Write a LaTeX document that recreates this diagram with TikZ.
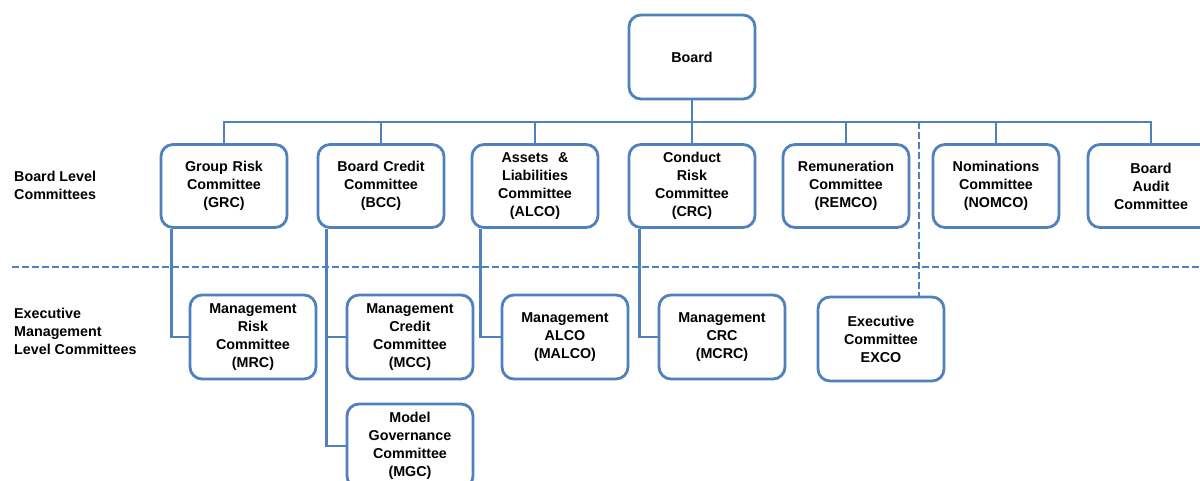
\documentclass[tikz,border=0pt]{standalone}
\usepackage{fontspec}
\setmainfont{Liberation Sans}
\definecolor{bl}{RGB}{79,129,189}
\begin{document}
\begin{tikzpicture}[x=1pt,y=-1pt,
  box/.style={draw=bl, line width=2.8pt, rounded corners=12pt, fill=white, align=center,
    font=\fontsize{14.3}{18}\selectfont\bfseries, inner sep=0pt, minimum width=126pt, text width=124pt},
  l1/.style={box, minimum height=83pt},
  l2/.style={box, minimum height=84pt},
  conn/.style={draw=bl, line width=2.8pt},
  dline/.style={draw=bl, line width=2.6pt, dash pattern=on 7pt off 3pt},
  lbl/.style={align=left, anchor=west, inner sep=0pt, font=\fontsize{14.3}{18}\selectfont\bfseries}]
\useasboundingbox (0,0) rectangle (1200,481);
\fill[white] (0,0) rectangle (1200,481);

% dashed separators
\coordinate (dl) at (12,267);
\coordinate (dr) at (1200,267);
\coordinate (dv) at (919,122);

% board
\node[box, minimum height=84pt] (board) at (692,57) {Board};

% level 1
\node[l1] (grc) at (224,186) {Group Risk\\Committee\\(GRC)};
\node[l1] (bcc) at (381,186) {Board Credit\\Committee\\(BCC)};
\node[l1] (alco) at (535,186) {Assets \ \&\\Liabilities\\Committee\\(ALCO)};
\node[l1] (crc) at (692,186) {Conduct\\Risk\\Committee\\(CRC)};
\node[l1] (remco) at (846,186) {Remuneration\\Committee\\(REMCO)};
\node[l1] (nomco) at (996,186) {Nominations\\Committee\\(NOMCO)};
\node[l1] (bac) at (1151,186) {Board\\Audit\\Committee};

% level 2
\node[l2] (mrc) at (253,337) {Management\\Risk\\Committee\\(MRC)};
\node[l2] (mcc) at (410,337) {Management\\Credit\\Committee\\(MCC)};
\node[l2] (mgc) at (410,446) {Model\\Governance\\Committee\\(MGC)};
\node[l2] (malco) at (565,337) {Management\\ALCO\\(MALCO)};
\node[l2] (mcrc) at (722,337) {Management\\CRC\\(MCRC)};
\node[l2] (exco) at (881,339) {Executive\\Committee\\EXCO};

% labels
\node[lbl] (lab1) at (14,185) {Board Level\\Committees};
\node[lbl] (lab2) at (14,331) {Executive\\Management\\Level Committees};

% bus
\draw[conn] (grc.north) |- (bac.north |- dv) -- (bac.north);
\draw[conn] (board.south) -- (board.south |- dv);
\foreach \n in {bcc,alco,crc,remco,nomco} \draw[conn] (\n.north) -- (\n.north |- dv);

% dashed
\draw[dline] (dl) -- (dr);
\draw[dline] (dv) -- (dv |- exco.north);

% level-2 connectors
\draw[conn] ([xshift=12pt]grc.south west) |- (mrc.west);
\draw[conn] ([xshift=10pt]bcc.south west) |- (mcc.west);
\draw[conn] ([xshift=10pt]bcc.south west) |- (mgc.west);
\draw[conn] ([xshift=10pt]alco.south west) |- (malco.west);
\draw[conn] ([xshift=12pt]crc.south west) |- (mcrc.west);
\end{tikzpicture}
\end{document}
